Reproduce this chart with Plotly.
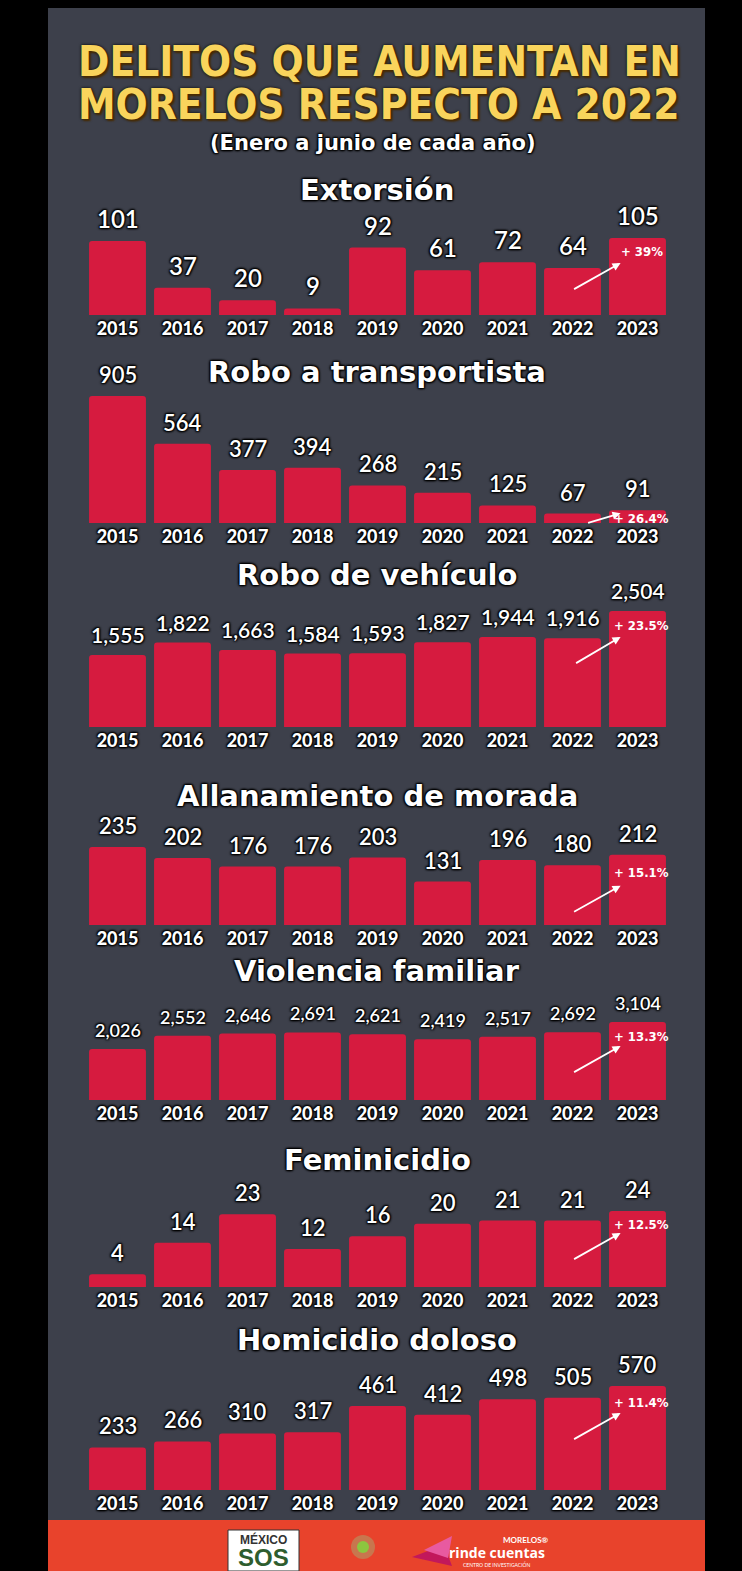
import plotly.graph_objects as go

W, H = 742, 1571

years = [2015, 2016, 2017, 2018, 2019, 2020, 2021, 2022, 2023]
chart_titles = ["Extorsión", "Robo a transportista", "Robo de vehículo",
                "Allanamiento de morada", "Violencia familiar", "Feminicidio",
                "Homicidio doloso"]
extorsion = [101, 37, 20, 9, 92, 61, 72, 64, 105]
robo_transportista = [905, 564, 377, 394, 268, 215, 125, 67, 91]
robo_vehiculo = [1555, 1822, 1663, 1584, 1593, 1827, 1944, 1916, 2504]
allanamiento = [235, 202, 176, 176, 203, 131, 196, 180, 212]
violencia_familiar = [2026, 2552, 2646, 2691, 2621, 2419, 2517, 2692, 3104]
feminicidio = [4, 14, 23, 12, 16, 20, 21, 21, 24]
homicidio = [233, 266, 310, 317, 461, 412, 498, 505, 570]
increase_labels = ["+ 39%", "+ 26.4%", "+ 23.5%", "+ 15.1%", "+ 13.3%", "+ 12.5%", "+ 11.4%"]

series = [extorsion, robo_transportista, robo_vehiculo, allanamiento,
          violencia_familiar, feminicidio, homicidio]

# layout in pixels: (baseline, top of tallest bar, title centre, value font size)
panels = [
    (315, 238, 190, 24),
    (523, 396, 372, 22),
    (727, 611, 575, 21),
    (925, 847, 796, 22),
    (1100, 1022, 971, 18),
    (1287, 1211, 1160, 22),
    (1490, 1386, 1340, 22),
]
# arrow styling per panel: (head yshift, ax, ay, label yshift)
arrows = [
    (-25, -48, 27, -4),
    (-3, -34, 10, 1),
    (-26, -46, 27, -5),
    (-31, -48, 27, -8),
    (-24, -48, 27, -5),
    (-22, -48, 27, -4),
    (-27, -48, 27, -7),
]

BAR = "#d61b3f"
PANEL = "#3d404b"
SHADOW = "1px 1px 2px #000, -1px -1px 2px #000, 1px -1px 2px #000, -1px 1px 2px #000"
COND = "Liberation Sans Narrow, DejaVu Sans Condensed, DejaVu Sans"

def px(x):
    return x / W

def py(y):
    return 1 - y / H

fig = go.Figure()
layout = dict(
    width=W, height=H,
    margin=dict(l=0, r=0, t=0, b=0),
    paper_bgcolor="#000000",
    plot_bgcolor="rgba(0,0,0,0)",
    showlegend=False,
    shapes=[], annotations=[],
)

def paper_text(text, x, y, font):
    layout["annotations"].append(dict(text=text, x=px(x), y=py(y), xref="paper", yref="paper",
                                      xanchor="center", yanchor="middle", showarrow=False,
                                      borderpad=0, font=font))

# panel background & footer
layout["shapes"].append(dict(type="rect", xref="paper", yref="paper", layer="below",
                             x0=px(48), x1=px(705), y0=py(1520), y1=py(8),
                             fillcolor=PANEL, line=dict(width=0)))
layout["shapes"].append(dict(type="rect", xref="paper", yref="paper", layer="below",
                             x0=px(48), x1=px(705), y0=0, y1=py(1520),
                             fillcolor="#e8432c", line=dict(width=0)))

# main title
title_font = dict(family=COND, size=42, color="#f9d45c", weight=700,
                  shadow="2px 2px 2px #4a2c00, 0px 0px 3px #000")
paper_text("DELITOS QUE AUMENTAN EN", 379, 61, title_font)
paper_text("MORELOS RESPECTO A 2022", 379, 104, title_font)
paper_text("(Enero a junio de cada año)", 373, 143,
           dict(family="DejaVu Sans", size=21, color="#ffffff", weight=700, shadow=SHADOW))

for i, (vals, title, (base, top, ty, vfs), (hs, ax, ay, ls), inc) in enumerate(
        zip(series, chart_titles, panels, arrows, increase_labels), start=1):
    xa, ya = f"x{i}", f"y{i}"
    vmax = max(vals)
    fig.add_trace(go.Bar(x=years, y=vals, xaxis=xa, yaxis=ya, width=0.875,
                         marker=dict(color=BAR, cornerradius=3, line=dict(width=0)),
                         hoverinfo="skip"))
    layout[f"xaxis{i}"] = dict(domain=[px(85), px(670)], range=[2014.5, 2023.5], anchor=ya,
                               tickvals=years, ticktext=[str(y) for y in years],
                               showgrid=False, zeroline=False, showline=False, ticks="",
                               ticklabelstandoff=1,
                               tickfont=dict(family="Lato", size=18, color="#ffffff",
                                             weight=900, shadow=SHADOW),
                               fixedrange=True)
    layout[f"yaxis{i}"] = dict(domain=[py(base), py(top)], range=[0, vmax], anchor=xa,
                               visible=False, fixedrange=True)
    # chart title
    paper_text(title, 377, ty, dict(family="DejaVu Sans", size=29, color="#ffffff",
                                    weight=700, shadow=SHADOW))
    # value labels
    for yr, v in zip(years, vals):
        layout["annotations"].append(dict(text=f"{v:,}", x=yr, y=v, xref=xa, yref=ya,
                                          xanchor="center", yanchor="bottom", yshift=6,
                                          showarrow=False,
                                          font=dict(family="Lato", size=vfs, color="#ffffff",
                                                    weight=600, shadow=SHADOW)))
    # arrow & increase label
    layout["annotations"].append(dict(text="", x=2022.74, y=vals[-1], xref=xa, yref=ya,
                                      yshift=hs, showarrow=True, ax=ax, ay=ay,
                                      arrowhead=2, arrowsize=0.9, arrowwidth=1.8,
                                      arrowcolor="#ffffff"))
    layout["annotations"].append(dict(text=inc, x=2023, y=vals[-1], xref=xa, yref=ya,
                                      xanchor="center", xshift=4, yanchor="top", yshift=ls,
                                      showarrow=False,
                                      font=dict(family=COND, size=13, color="#ffffff", weight=700)))

# footer logos (decorative)
layout["shapes"] += [
    dict(type="rect", xref="paper", yref="paper", x0=px(228), x1=px(299), y0=0, y1=py(1530),
         fillcolor="#ffffff", line=dict(color="#333333", width=1)),
    dict(type="circle", xref="paper", yref="paper", x0=px(351), x1=px(375), y0=py(1559), y1=py(1535),
         fillcolor="#c8764e", line=dict(width=0)),
    dict(type="circle", xref="paper", yref="paper", x0=px(357), x1=px(369), y0=py(1553), y1=py(1541),
         fillcolor="#8cc63f", line=dict(width=0)),
    dict(type="path", xref="paper", yref="paper",
         path=f"M {px(412)},{py(1557)} L {px(444)},{py(1545)} L {px(452)},{py(1566)} Z",
         fillcolor="#c2185b", line=dict(width=0)),
    dict(type="path", xref="paper", yref="paper",
         path=f"M {px(424)},{py(1550)} L {px(452)},{py(1536)} L {px(448)},{py(1558)} Z",
         fillcolor="#e85aa0", line=dict(width=0)),
]
paper_text("<b>MÉXICO</b>", 263, 1539, dict(family="Liberation Sans", size=12, color="#333333"))
paper_text("<b>SOS</b>", 263, 1557, dict(family="Liberation Sans", size=24, color="#2e5d2e"))
paper_text("MORELOS®", 526, 1540, dict(family="Lato", size=8, color="#ffffff", weight=700))
paper_text("<b>rinde cuentas</b>", 497, 1552, dict(family="Open Sans", size=14, color="#ffffff"))
paper_text("CENTRO DE INVESTIGACIÓN", 497, 1564, dict(family="Lato", size=5, color="#ffffff"))

fig.update_layout(**layout)
fig.write_html("out.html", config={"displayModeBar": False},
               post_script="document.body.style.margin='0';document.body.style.background='#000';")
